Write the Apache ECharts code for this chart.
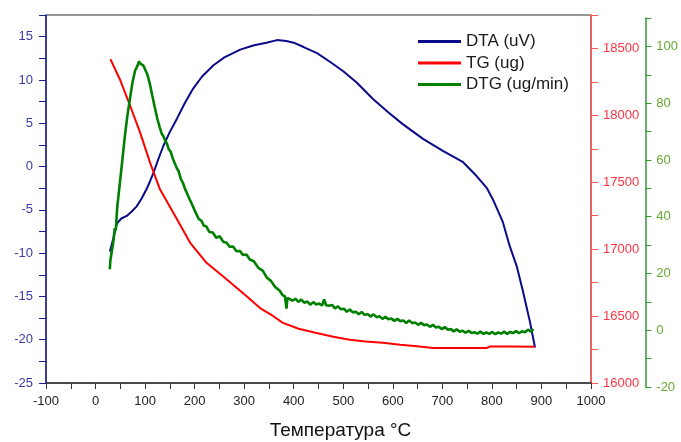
<!DOCTYPE html>
<html>
<head>
<meta charset="utf-8">
<title>DTA / TG / DTG</title>
<script src="https://cdn.jsdelivr.net/npm/echarts@6/dist/echarts.min.js"></script>
<style>
    html, body { margin: 0; padding: 0; background: #fff; }
    #myEcharts { width: 681px; height: 442px; }
</style>
</head>
<body>
<div id="myEcharts"></div>
<script>
// [temperature °C, value] pairs
const dtaPoints = [
    [29, -9.8], [35, -8.5], [43, -6.6], [52, -6.0], [63, -5.7], [73, -5.2], [83, -4.6],
    [93, -3.7], [103, -2.6], [110, -1.7], [117, -0.7], [127, 0.9], [137, 2.4], [150, 4.0],
    [164, 5.5], [180, 7.3], [197, 9.0], [215, 10.4], [238, 11.7], [260, 12.6], [292, 13.5],
    [320, 14.0], [345, 14.3], [366, 14.6], [385, 14.5], [400, 14.3], [420, 13.8], [447, 13.1],
    [473, 12.1], [500, 11.0], [527, 9.7], [560, 7.8], [590, 6.3], [620, 4.9], [661, 3.2],
    [701, 1.8], [742, 0.5], [769, -1.1], [790, -2.5], [802, -3.8], [822, -6.4], [836, -9.2],
    [850, -11.5], [863, -14.5], [877, -18.0], [887, -20.9]
];
const tgPoints = [
    [30, 18420], [49, 18270], [70, 18070], [90, 17871], [110, 17647], [130, 17447],
    [157, 17272], [191, 17048], [224, 16898], [265, 16773], [305, 16648], [332, 16560],
    [359, 16499], [378, 16449], [410, 16405], [446, 16374], [480, 16345], [513, 16324],
    [545, 16310], [580, 16300], [615, 16285], [649, 16274], [681, 16262], [740, 16262],
    [790, 16262], [796, 16272], [840, 16272], [887, 16270]
];
const dtgPoints = [
    [29, 21.5], [30, 24.5], [32, 23.8], [35, 30.0], [37, 32.5], [39, 36.0], [41, 35.2],
    [44, 43.5], [49, 51.4], [54, 59.5], [59, 67.8], [64, 75.0], [70, 82.0], [75, 87.5],
    [80, 91.4], [85, 93.2], [88, 94.8], [90, 94.0], [93, 94.6], [97, 93.2], [100, 92.6],
    [105, 90.0], [110, 86.7], [115, 82.5], [120, 78.4], [125, 74.5], [130, 71.4], [134, 69.2],
    [137, 68.4], [141, 66.8], [144, 65.9], [148, 63.8], [152, 62.9], [156, 60.6], [160, 59.9],
    [164, 57.2], [168, 56.0], [173, 53.1], [177, 51.8], [181, 49.8], [184, 49.3], [188, 47.0],
    [191, 46.9], [195, 44.4], [198, 43.8], [202, 41.6], [205, 41.2], [209, 39.1], [214, 38.6],
    [219, 36.8], [224, 36.6], [230, 34.6], [237, 34.4], [244, 32.6], [251, 33.1], [258, 31.2],
    [265, 30.8], [271, 29.4], [278, 29.5], [285, 27.8], [292, 27.9], [298, 26.5], [305, 26.7],
    [312, 24.9], [320, 24.3], [329, 22.0], [338, 21.0], [346, 18.6], [355, 17.3], [363, 15.2],
    [372, 14.0], [378, 12.4], [383, 11.9], [386, 7.6], [388, 11.4], [392, 11.2], [398, 10.4],
    [404, 11.1], [410, 10.0], [416, 10.8], [422, 9.7], [428, 10.1], [434, 9.0], [440, 9.9],
    [446, 9.1], [452, 9.4], [458, 8.7], [462, 10.9], [466, 8.8], [472, 8.6], [478, 8.9],
    [484, 7.7], [490, 8.4], [496, 7.4], [502, 7.6], [508, 6.5], [514, 7.3], [520, 6.3],
    [526, 6.5], [532, 5.6], [538, 6.4], [544, 5.4], [550, 5.7], [556, 4.8], [562, 5.6],
    [568, 4.6], [574, 4.9], [580, 4.0], [586, 4.7], [592, 3.9], [598, 4.1], [604, 3.3],
    [610, 4.0], [616, 3.2], [622, 3.4], [628, 2.6], [634, 3.4], [640, 2.5], [646, 2.7],
    [652, 1.9], [658, 2.6], [664, 1.8], [670, 2.0], [676, 1.2], [682, 1.9], [688, 1.0],
    [694, 1.2], [700, 0.4], [706, 1.1], [712, 0.2], [718, 0.4], [724, -0.4], [730, 0.3],
    [736, -0.5], [742, -0.2], [748, -0.9], [754, -0.2], [760, -1.0], [766, -0.7], [772, -1.2],
    [778, -0.5], [784, -1.3], [790, -0.8], [796, -1.3], [802, -0.6], [808, -1.4], [814, -0.8],
    [820, -1.2], [826, -0.5], [832, -1.3], [838, -0.6], [844, -1.0], [850, -0.3], [856, -1.0],
    [862, -0.4], [868, -0.7], [874, 0.2], [880, -0.5], [885, 0.4]
];
const seriesNames = ['DTA (uV)', 'TG (ug)', 'DTG (ug/min)'];
const xTitle = 'Температура °C';

const font = "'Liberation Sans', Arial, sans-serif";

const option = {
    animation: false,
    textStyle: { fontFamily: font },
    title: {
        text: xTitle,
        left: 'center',
        top: 421,
        padding: 0,
        textStyle: { fontSize: 19, fontWeight: 'normal', color: '#111', fontFamily: font }
    },
    legend: {
        orient: 'vertical',
        left: 418,
        top: 33,
        padding: 0,
        icon: 'rect',
        itemWidth: 43,
        itemHeight: 3,
        itemGap: 4.5,
        textStyle: { fontSize: 17, color: '#1a1a1a', fontFamily: font },
        data: seriesNames
    },
    grid: [
        { left: 46, right: 90, top: 15, bottom: 59, show: true, borderColor: '#333', borderWidth: 1 },
        { left: 46, right: 90, top: 18, bottom: 55 }
    ],
    xAxis: [
        {
            type: 'value',
            gridIndex: 0,
            min: -100,
            max: 1000,
            interval: 50,
            axisLine: { onZero: false, lineStyle: { color: '#333', width: 1.5 } },
            axisTick: { length: 6, lineStyle: { color: '#333' } },
            axisLabel: {
                margin: 12,
                fontSize: 13,
                color: '#222',
                formatter: v => (v % 100 === 0 ? String(v) : '')
            },
            splitLine: { show: false }
        },
        {
            type: 'value',
            gridIndex: 1,
            min: -100,
            max: 1000,
            show: false
        }
    ],
    yAxis: [
        {
            type: 'value',
            gridIndex: 0,
            position: 'left',
            min: -25,
            max: 17.5,
            interval: 2.5,
            axisLine: { show: true, onZero: false, lineStyle: { color: '#1c1c99', width: 1.5 } },
            axisTick: { show: true, length: 7, lineStyle: { color: '#1c1c99' } },
            axisLabel: {
                margin: 13,
                fontSize: 13,
                color: '#3a3aa8',
                formatter: v => (v % 5 === 0 ? String(v) : '')
            },
            splitLine: { show: false }
        },
        {
            type: 'value',
            gridIndex: 0,
            position: 'right',
            min: 16000,
            max: 18750,
            interval: 250,
            axisLine: { show: true, onZero: false, lineStyle: { color: '#ff5555', width: 1.5 } },
            axisTick: { show: true, length: 7, lineStyle: { color: '#ff5555' } },
            axisLabel: {
                margin: 12,
                fontSize: 13,
                color: '#ff3344',
                formatter: v => (v % 500 === 0 ? String(v) : '')
            },
            splitLine: { show: false }
        },
        {
            type: 'value',
            gridIndex: 1,
            position: 'right',
            offset: 55,
            min: -20,
            max: 110,
            interval: 10,
            axisLine: { show: true, onZero: false, lineStyle: { color: '#339933', width: 1.5 } },
            axisTick: { show: true, length: 6, lineStyle: { color: '#339933' } },
            axisLabel: {
                margin: 11,
                fontSize: 13,
                color: '#66a833',
                formatter: v => (v % 20 === 0 ? String(v) : '')
            },
            splitLine: { show: false }
        }
    ],
    series: [
        {
            name: seriesNames[0],
            type: 'line',
            xAxisIndex: 0,
            yAxisIndex: 0,
            symbol: 'none',
            itemStyle: { color: '#0a0a8a' },
            lineStyle: { color: '#0a0a8a', width: 2 },
            data: dtaPoints
        },
        {
            name: seriesNames[1],
            type: 'line',
            xAxisIndex: 0,
            yAxisIndex: 1,
            symbol: 'none',
            itemStyle: { color: '#ff0000' },
            lineStyle: { color: '#ff0000', width: 2 },
            data: tgPoints
        },
        {
            name: seriesNames[2],
            type: 'line',
            xAxisIndex: 1,
            yAxisIndex: 2,
            symbol: 'none',
            itemStyle: { color: '#008000' },
            lineStyle: { color: '#008000', width: 2.6 },
            data: dtgPoints
        }
    ]
};

let chart = echarts.init(document.getElementById('myEcharts'));
chart.setOption(option);
</script>
</body>
</html>
